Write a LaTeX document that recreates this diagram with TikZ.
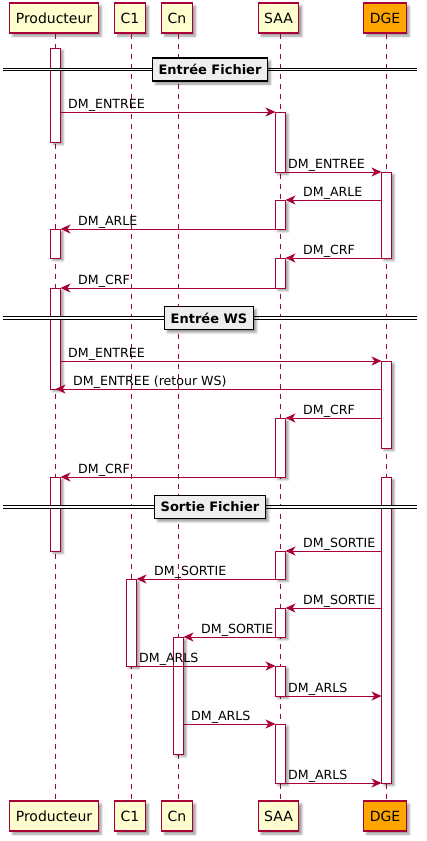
\documentclass[tikz,border=0pt]{standalone}
\usepackage{fontspec}
\setmainfont{DejaVu Sans}
\usetikzlibrary{arrows.meta,shadows.blur}
\definecolor{pline}{HTML}{A80036}
\definecolor{pfill}{HTML}{FEFECE}
\definecolor{dge}{HTML}{FFA500}
\definecolor{divfill}{HTML}{EEEEEE}
\tikzset{
  x=1pt,y=-1pt,
  pbox/.style={draw=pline,line width=1.2pt,fill=pfill,minimum height=30pt,inner xsep=6pt,font=\fontsize{14}{16}\selectfont,
    blur shadow={shadow xshift=3pt,shadow yshift=-3pt,shadow blur steps=4,shadow opacity=40}},
  lifeline/.style={draw=pline,line width=0.8pt,dash pattern=on 5pt off 5pt},
  actbar/.style={draw=pline,line width=1pt,fill=white,
    blur shadow={shadow xshift=2.5pt,shadow yshift=-2.5pt,shadow blur steps=3,shadow opacity=40}},
  msg/.style={draw=pline,line width=0.9pt,-{Stealth[length=10pt,width=9pt,inset=3pt]}},
  mlabel/.style={anchor=base west,inner sep=0pt,font=\fontsize{12.6}{14}\selectfont},
  divbox/.style={draw=black,line width=1.5pt,fill=divfill,font=\bfseries\fontsize{13}{15}\selectfont,inner xsep=6pt,minimum height=23pt,
    blur shadow={shadow xshift=3pt,shadow yshift=-3pt,shadow blur steps=3,shadow opacity=40}},
  divline/.style={draw=black,line width=1pt,double distance=1.6pt}
}
\newcommand{\actb}[3]{\draw[actbar] (#1-5,#2) rectangle (#1+5,#3);}
\begin{document}
\begin{tikzpicture}
\useasboundingbox (0,0) rectangle (427,841);
% lifeline x positions
\def\xP{55.5}\def\xA{131.5}\def\xN{178.5}\def\xS{280.5}\def\xD{386.5}
% participants top
\node[pbox] (pT) at (54,18) {Producteur};
\node[pbox] (c1T) at (130,18) {C1};
\node[pbox] (cnT) at (177,18) {Cn};
\node[pbox] (sT) at (278.5,18) {SAA};
\node[pbox,fill=dge] (dT) at (385,18) {DGE};
% participants bottom
\node[pbox] (pB) at (54,816) {Producteur};
\node[pbox] (c1B) at (130,816) {C1};
\node[pbox] (cnB) at (177,816) {Cn};
\node[pbox] (sB) at (278.5,816) {SAA};
\node[pbox,fill=dge] (dB) at (385,816) {DGE};
% lifelines
\draw[lifeline] (pT.south -| \xP,0) -- (pB.north -| \xP,0);
\draw[lifeline] (c1T.south -| \xA,0) -- (c1B.north -| \xA,0);
\draw[lifeline] (cnT.south -| \xN,0) -- (cnB.north -| \xN,0);
\draw[lifeline] (sT.south -| \xS,0) -- (sB.north -| \xS,0);
\draw[lifeline] (dT.south -| \xD,0) -- (dB.north -| \xD,0);
% activation bars
\actb{\xP}{48}{142}
\actb{\xP}{229}{258}
\actb{\xP}{288}{389}
\actb{\xP}{477}{551}
\actb{\xS}{112}{172}
\actb{\xS}{200}{229}
\actb{\xS}{258}{288}
\actb{\xS}{418}{477}
\actb{\xS}{551}{579}
\actb{\xS}{608}{637}
\actb{\xS}{666}{696}
\actb{\xS}{724}{783}
\actb{\xD}{172}{258}
\actb{\xD}{361}{448}
\actb{\xD}{477}{783}
\actb{\xA}{579}{666}
\actb{\xN}{637}{754}
% dividers
\draw[divline] (3,69.5) -- (417,69.5);
\node[divbox] (d1) at (210,69.5) {Entrée Fichier};
\draw[divline] (3,318) -- (417,318);
\node[divbox] (d2) at (209,318) {Entrée WS};
\draw[divline] (3,507) -- (417,507);
\node[divbox] (d3) at (210,507) {Sortie Fichier};
% messages
\coordinate (m1a) at (60.5,112); \coordinate (m1b) at (275.5,112);
\draw[msg] (m1a) -- (m1b); \node[mlabel] at (68,108) {DM\_ENTREE};
\coordinate (m2a) at (285.5,172); \coordinate (m2b) at (381.5,172);
\draw[msg] (m2a) -- (m2b); \node[mlabel] at (288,168) {DM\_ENTREE};
\coordinate (m3a) at (381.5,200); \coordinate (m3b) at (285.5,200);
\draw[msg] (m3a) -- (m3b); \node[mlabel] at (303,196) {DM\_ARLE};
\coordinate (m4a) at (275.5,229); \coordinate (m4b) at (60.5,229);
\draw[msg] (m4a) -- (m4b); \node[mlabel] at (78,225) {DM\_ARLE};
\coordinate (m5a) at (381.5,258); \coordinate (m5b) at (285.5,258);
\draw[msg] (m5a) -- (m5b); \node[mlabel] at (303,254) {DM\_CRF};
\coordinate (m6a) at (275.5,288); \coordinate (m6b) at (60.5,288);
\draw[msg] (m6a) -- (m6b); \node[mlabel] at (78,284) {DM\_CRF};
\coordinate (m7a) at (60.5,361); \coordinate (m7b) at (381.5,361);
\draw[msg] (m7a) -- (m7b); \node[mlabel] at (68,357) {DM\_ENTREE};
\coordinate (m8a) at (381.5,389); \coordinate (m8b) at (55.5,389);
\draw[msg] (m8a) -- (m8b); \node[mlabel] at (73,385) {DM\_ENTREE (retour WS)};
\coordinate (m9a) at (381.5,418); \coordinate (m9b) at (285.5,418);
\draw[msg] (m9a) -- (m9b); \node[mlabel] at (303,414) {DM\_CRF};
\coordinate (m10a) at (275.5,477); \coordinate (m10b) at (60.5,477);
\draw[msg] (m10a) -- (m10b); \node[mlabel] at (78,473) {DM\_CRF};
\coordinate (m11a) at (381.5,551); \coordinate (m11b) at (285.5,551);
\draw[msg] (m11a) -- (m11b); \node[mlabel] at (303,547) {DM\_SORTIE};
\coordinate (m12a) at (275.5,579); \coordinate (m12b) at (136.5,579);
\draw[msg] (m12a) -- (m12b); \node[mlabel] at (154,575) {DM\_SORTIE};
\coordinate (m13a) at (381.5,608); \coordinate (m13b) at (285.5,608);
\draw[msg] (m13a) -- (m13b); \node[mlabel] at (303,604) {DM\_SORTIE};
\coordinate (m14a) at (275.5,637); \coordinate (m14b) at (183.5,637);
\draw[msg] (m14a) -- (m14b); \node[mlabel] at (201,633) {DM\_SORTIE};
\coordinate (m15a) at (136.5,666); \coordinate (m15b) at (275.5,666);
\draw[msg] (m15a) -- (m15b); \node[mlabel] at (139,662) {DM\_ARLS};
\coordinate (m16a) at (285.5,696); \coordinate (m16b) at (381.5,696);
\draw[msg] (m16a) -- (m16b); \node[mlabel] at (288,692) {DM\_ARLS};
\coordinate (m17a) at (183.5,724); \coordinate (m17b) at (275.5,724);
\draw[msg] (m17a) -- (m17b); \node[mlabel] at (191,720) {DM\_ARLS};
\coordinate (m18a) at (285.5,783); \coordinate (m18b) at (381.5,783);
\draw[msg] (m18a) -- (m18b); \node[mlabel] at (288,779) {DM\_ARLS};
\end{tikzpicture}
\end{document}
